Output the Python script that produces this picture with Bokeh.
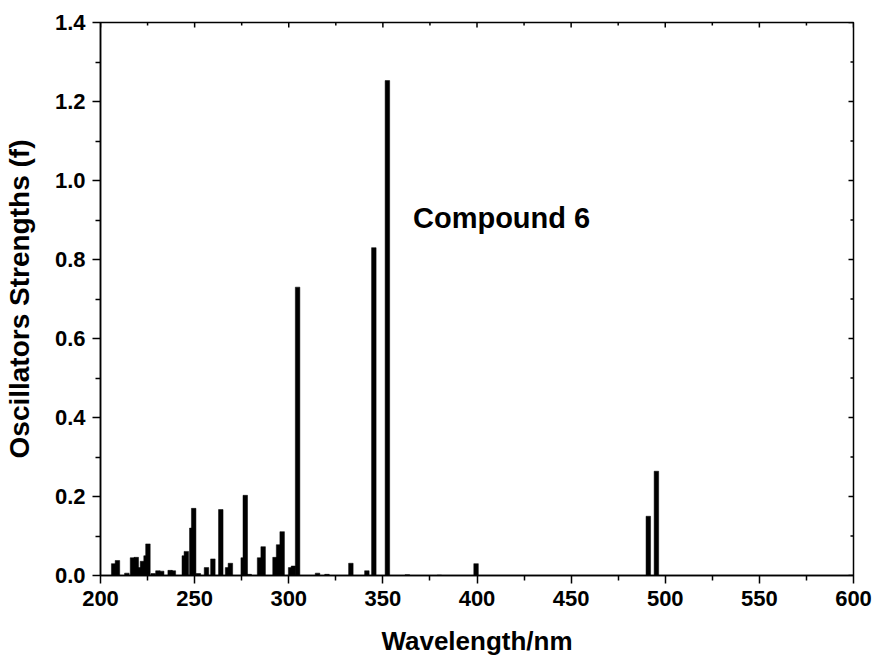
from bokeh.plotting import figure
from bokeh.models import ColumnDataSource, Label, Range1d, FixedTicker, CustomJSTickFormatter
from bokeh.embed import file_html
from bokeh.resources import INLINE

# ---- data ----
wavelengths = [207, 209, 214, 217, 219, 220.5, 222.3, 224.2, 225.2, 228,
               230.5, 232.5, 237, 238.7, 244.5, 245.6, 248.5, 249.5, 252, 256.3,
               259.7, 263.9, 267.5, 269, 275.8, 276.9, 279, 284.5, 286.4, 292.7,
               294.6, 296.5, 301, 302.5, 304.7, 315.3, 320.3, 333, 341.5, 345.2,
               352.4, 363, 380, 399.5, 491, 495.3]
strengths = [0.030, 0.038, 0.006, 0.045, 0.046, 0.020, 0.036, 0.050, 0.080, 0.005,
             0.012, 0.011, 0.013, 0.012, 0.050, 0.061, 0.120, 0.170, 0.005, 0.020,
             0.042, 0.167, 0.020, 0.031, 0.045, 0.203, 0.003, 0.045, 0.073, 0.046,
             0.078, 0.111, 0.020, 0.024, 0.730, 0.006, 0.003, 0.031, 0.012, 0.830,
             1.253, 0.002, 0.001, 0.030, 0.150, 0.264]

x_ticks = [200, 250, 300, 350, 400, 450, 500, 550, 600]
x_minor = [225, 275, 325, 375, 425, 475, 525, 575]
y_ticks = [0.0, 0.2, 0.4, 0.6, 0.8, 1.0, 1.2, 1.4]
y_minor = [0.1, 0.3, 0.5, 0.7, 0.9, 1.1, 1.3]
annotation_text = "Compound 6"
x_title = "Wavelength/nm"
y_title = "Oscillators Strengths (f)"

FONT = "Liberation Sans"
FW, FH = 753, 553
X0, X1, Y0, Y1 = 200, 600, 0, 1.4

p = figure(frame_width=FW, frame_height=FH,
           min_border_left=100, min_border_right=22, min_border_top=22, min_border_bottom=80,
           x_range=Range1d(X0, X1), y_range=Range1d(Y0, Y1),
           output_backend="svg", toolbar_location=None, tools="")
p.background_fill_color = "white"
p.border_fill_color = "white"
p.grid.visible = False
p.outline_line_color = "black"
p.outline_line_width = 1.5

src = ColumnDataSource(dict(x=wavelengths, top=strengths))
p.vbar(x="x", top="top", bottom=0, width=2.4, source=src,
       fill_color="black", line_color="black", line_width=0.5)

def style_axis(ax, title_size):
    ax.axis_line_width = 1.5
    ax.axis_line_color = "black"
    ax.major_tick_line_width = 1.5
    ax.minor_tick_line_width = 1.5
    ax.major_tick_line_color = "black"
    ax.minor_tick_line_color = "black"
    ax.major_tick_in = 0
    ax.major_tick_out = 8
    ax.minor_tick_in = 0
    ax.minor_tick_out = 5
    ax.major_label_text_font = FONT
    ax.major_label_text_font_style = "bold"
    ax.major_label_text_color = "black"
    ax.major_label_text_font_size = "22px"
    ax.axis_label_text_font = FONT
    ax.axis_label_text_font_style = "bold"
    ax.axis_label_text_font_size = title_size
    ax.axis_label_text_color = "black"

xa = p.xaxis[0]
xa.ticker = FixedTicker(ticks=x_ticks, minor_ticks=x_minor)
style_axis(xa, "26px")
xa.major_label_standoff = 7
xa.axis_label = x_title
xa.axis_label_standoff = 17

ya = p.yaxis[0]
ya.ticker = FixedTicker(ticks=y_ticks, minor_ticks=y_minor)
ya.formatter = CustomJSTickFormatter(code="return tick.toFixed(1);")
style_axis(ya, "28px")
ya.major_label_standoff = 7
ya.axis_label = y_title
ya.axis_label_standoff = 17

# inward mirror ticks on the top and right edges
tx_major = 5 * (Y1 - Y0) / FH
tx_minor = 3 * (Y1 - Y0) / FH
p.segment(x0=x_ticks + x_minor, x1=x_ticks + x_minor,
          y0=[Y1] * (len(x_ticks) + len(x_minor)),
          y1=[Y1 - tx_major] * len(x_ticks) + [Y1 - tx_minor] * len(x_minor),
          line_color="black", line_width=1.5)
ty_major = 5 * (X1 - X0) / FW
ty_minor = 3 * (X1 - X0) / FW
p.segment(y0=y_ticks + y_minor, y1=y_ticks + y_minor,
          x0=[X1] * (len(y_ticks) + len(y_minor)),
          x1=[X1 - ty_major] * len(y_ticks) + [X1 - ty_minor] * len(y_minor),
          line_color="black", line_width=1.5)

p.add_layout(Label(x=366, y=0.904, text=annotation_text, text_align="left",
                   text_baseline="middle", text_font=FONT, text_font_style="bold",
                   text_font_size="29px", text_color="black"))

open("out.html", "w").write(file_html(p, INLINE))
